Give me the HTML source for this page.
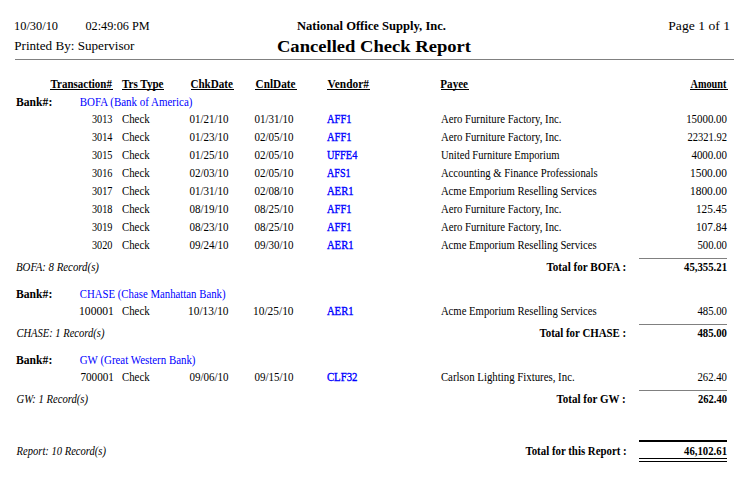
<!DOCTYPE html>
<html><head><meta charset="utf-8"><title>Cancelled Check Report</title>
<style>
html,body{margin:0;padding:0;background:#fff;width:744px;height:479px;overflow:hidden}
svg{display:block}
text{font-family:"Liberation Serif",serif;white-space:pre}
</style></head><body>
<svg width="744" height="479" viewBox="0 0 744 479">
<rect width="744" height="479" fill="#fff"/>
<g shape-rendering="crispEdges">
<rect x="15" y="59" width="719" height="1" fill="#808080"/>
<rect x="639" y="258" width="88" height="1" fill="#808080"/>
<rect x="639" y="324" width="88" height="1" fill="#808080"/>
<rect x="639" y="390" width="88" height="1" fill="#808080"/>
<rect x="639" y="440" width="88" height="2" fill="#000"/>
<rect x="639" y="458" width="88" height="1" fill="#000"/>
<rect x="639" y="461" width="88" height="1" fill="#000"/>
<rect x="50" y="89" width="63" height="1" fill="#000"/>
<rect x="122" y="89" width="42" height="1" fill="#000"/>
<rect x="191" y="89" width="43" height="1" fill="#000"/>
<rect x="255" y="89" width="42" height="1" fill="#000"/>
<rect x="327" y="89" width="43" height="1" fill="#000"/>
<rect x="441" y="89" width="28" height="1" fill="#000"/>
<rect x="690" y="89" width="38" height="1" fill="#000"/>
</g>
<g fill="#000">
<text x="14.02" y="30" textLength="43.98" lengthAdjust="spacingAndGlyphs" font-size="13.33">10/30/10</text>
<text x="85.46" y="30" textLength="64.24" lengthAdjust="spacingAndGlyphs" font-size="13.33">02:49:06 PM</text>
<text x="296.92" y="30" textLength="149.08" lengthAdjust="spacingAndGlyphs" font-size="13" font-weight="bold">National Office Supply, Inc.</text>
<text x="668.30" y="30" textLength="61.68" lengthAdjust="spacingAndGlyphs" font-size="13.33">Page 1 of 1</text>
<text x="14.26" y="50" textLength="120.24" lengthAdjust="spacingAndGlyphs" font-size="13.33">Printed By: Supervisor</text>
<text x="276.96" y="52" textLength="194.04" lengthAdjust="spacingAndGlyphs" font-size="17.5" font-weight="bold">Cancelled Check Report</text>
<text x="50.62" y="88" textLength="61.30" lengthAdjust="spacingAndGlyphs" font-size="12" font-weight="bold">Transaction#</text>
<text x="122.00" y="88" textLength="41.54" lengthAdjust="spacingAndGlyphs" font-size="12" font-weight="bold">Trs Type</text>
<text x="190.38" y="88" textLength="42.62" lengthAdjust="spacingAndGlyphs" font-size="12" font-weight="bold">ChkDate</text>
<text x="255.58" y="88" textLength="39.88" lengthAdjust="spacingAndGlyphs" font-size="12" font-weight="bold">CnlDate</text>
<text x="327.58" y="88" textLength="41.42" lengthAdjust="spacingAndGlyphs" font-size="12" font-weight="bold">Vendor#</text>
<text x="440.34" y="88" textLength="27.70" lengthAdjust="spacingAndGlyphs" font-size="12" font-weight="bold">Payee</text>
<text x="690.58" y="88" textLength="35.76" lengthAdjust="spacingAndGlyphs" font-size="12" font-weight="bold">Amount</text>
<text x="16.00" y="106" textLength="36.32" lengthAdjust="spacingAndGlyphs" font-size="12" font-weight="bold">Bank#:</text>
<text x="79.72" y="106" textLength="112.70" lengthAdjust="spacingAndGlyphs" font-size="12" fill="#0000ff">BOFA (Bank of America)</text>
<text x="92.00" y="123" textLength="20.46" lengthAdjust="spacingAndGlyphs" font-size="12">3013</text>
<text x="122.00" y="123" textLength="27.62" lengthAdjust="spacingAndGlyphs" font-size="12">Check</text>
<text x="189.42" y="123" textLength="39.12" lengthAdjust="spacingAndGlyphs" font-size="12">01/21/10</text>
<text x="254.42" y="123" textLength="39.12" lengthAdjust="spacingAndGlyphs" font-size="12">01/31/10</text>
<text x="326.92" y="123" textLength="24.66" lengthAdjust="spacingAndGlyphs" font-size="12" fill="#0000ff" stroke="#0000ff" stroke-width="0.35">AFF1</text>
<text x="440.92" y="123" textLength="120.58" lengthAdjust="spacingAndGlyphs" font-size="12">Aero Furniture Factory, Inc.</text>
<text x="686.14" y="123" textLength="40.86" lengthAdjust="spacingAndGlyphs" font-size="12">15000.00</text>
<text x="92.00" y="141" textLength="20.46" lengthAdjust="spacingAndGlyphs" font-size="12">3014</text>
<text x="122.00" y="141" textLength="27.62" lengthAdjust="spacingAndGlyphs" font-size="12">Check</text>
<text x="189.42" y="141" textLength="39.12" lengthAdjust="spacingAndGlyphs" font-size="12">01/23/10</text>
<text x="254.42" y="141" textLength="39.12" lengthAdjust="spacingAndGlyphs" font-size="12">02/05/10</text>
<text x="326.92" y="141" textLength="24.66" lengthAdjust="spacingAndGlyphs" font-size="12" fill="#0000ff" stroke="#0000ff" stroke-width="0.35">AFF1</text>
<text x="440.92" y="141" textLength="120.58" lengthAdjust="spacingAndGlyphs" font-size="12">Aero Furniture Factory, Inc.</text>
<text x="687.54" y="141" textLength="39.46" lengthAdjust="spacingAndGlyphs" font-size="12">22321.92</text>
<text x="92.00" y="159" textLength="20.46" lengthAdjust="spacingAndGlyphs" font-size="12">3015</text>
<text x="122.00" y="159" textLength="27.62" lengthAdjust="spacingAndGlyphs" font-size="12">Check</text>
<text x="189.42" y="159" textLength="39.12" lengthAdjust="spacingAndGlyphs" font-size="12">01/25/10</text>
<text x="254.42" y="159" textLength="39.12" lengthAdjust="spacingAndGlyphs" font-size="12">02/05/10</text>
<text x="326.92" y="159" textLength="30.38" lengthAdjust="spacingAndGlyphs" font-size="12" fill="#0000ff" stroke="#0000ff" stroke-width="0.35">UFFE4</text>
<text x="440.92" y="159" textLength="118.54" lengthAdjust="spacingAndGlyphs" font-size="12">United Furniture Emporium</text>
<text x="691.42" y="159" textLength="35.58" lengthAdjust="spacingAndGlyphs" font-size="12">4000.00</text>
<text x="92.00" y="177" textLength="20.46" lengthAdjust="spacingAndGlyphs" font-size="12">3016</text>
<text x="122.00" y="177" textLength="27.62" lengthAdjust="spacingAndGlyphs" font-size="12">Check</text>
<text x="189.42" y="177" textLength="39.12" lengthAdjust="spacingAndGlyphs" font-size="12">02/03/10</text>
<text x="254.42" y="177" textLength="39.12" lengthAdjust="spacingAndGlyphs" font-size="12">02/05/10</text>
<text x="326.92" y="177" textLength="23.70" lengthAdjust="spacingAndGlyphs" font-size="12" fill="#0000ff" stroke="#0000ff" stroke-width="0.35">AFS1</text>
<text x="440.92" y="177" textLength="156.66" lengthAdjust="spacingAndGlyphs" font-size="12">Accounting &amp; Finance Professionals</text>
<text x="690.02" y="177" textLength="36.98" lengthAdjust="spacingAndGlyphs" font-size="12">1500.00</text>
<text x="92.00" y="195" textLength="20.46" lengthAdjust="spacingAndGlyphs" font-size="12">3017</text>
<text x="122.00" y="195" textLength="27.62" lengthAdjust="spacingAndGlyphs" font-size="12">Check</text>
<text x="189.42" y="195" textLength="39.12" lengthAdjust="spacingAndGlyphs" font-size="12">01/31/10</text>
<text x="254.42" y="195" textLength="39.12" lengthAdjust="spacingAndGlyphs" font-size="12">02/08/10</text>
<text x="326.92" y="195" textLength="26.70" lengthAdjust="spacingAndGlyphs" font-size="12" fill="#0000ff" stroke="#0000ff" stroke-width="0.35">AER1</text>
<text x="440.92" y="195" textLength="155.70" lengthAdjust="spacingAndGlyphs" font-size="12">Acme Emporium Reselling Services</text>
<text x="690.02" y="195" textLength="36.98" lengthAdjust="spacingAndGlyphs" font-size="12">1800.00</text>
<text x="92.00" y="213" textLength="20.46" lengthAdjust="spacingAndGlyphs" font-size="12">3018</text>
<text x="122.00" y="213" textLength="27.62" lengthAdjust="spacingAndGlyphs" font-size="12">Check</text>
<text x="189.42" y="213" textLength="39.12" lengthAdjust="spacingAndGlyphs" font-size="12">08/19/10</text>
<text x="254.42" y="213" textLength="39.12" lengthAdjust="spacingAndGlyphs" font-size="12">08/25/10</text>
<text x="326.92" y="213" textLength="24.66" lengthAdjust="spacingAndGlyphs" font-size="12" fill="#0000ff" stroke="#0000ff" stroke-width="0.35">AFF1</text>
<text x="440.92" y="213" textLength="120.58" lengthAdjust="spacingAndGlyphs" font-size="12">Aero Furniture Factory, Inc.</text>
<text x="695.98" y="213" textLength="31.02" lengthAdjust="spacingAndGlyphs" font-size="12">125.45</text>
<text x="92.00" y="231" textLength="20.46" lengthAdjust="spacingAndGlyphs" font-size="12">3019</text>
<text x="122.00" y="231" textLength="27.62" lengthAdjust="spacingAndGlyphs" font-size="12">Check</text>
<text x="189.42" y="231" textLength="39.12" lengthAdjust="spacingAndGlyphs" font-size="12">08/23/10</text>
<text x="254.42" y="231" textLength="39.12" lengthAdjust="spacingAndGlyphs" font-size="12">08/25/10</text>
<text x="326.92" y="231" textLength="24.66" lengthAdjust="spacingAndGlyphs" font-size="12" fill="#0000ff" stroke="#0000ff" stroke-width="0.35">AFF1</text>
<text x="440.92" y="231" textLength="120.58" lengthAdjust="spacingAndGlyphs" font-size="12">Aero Furniture Factory, Inc.</text>
<text x="695.98" y="231" textLength="31.02" lengthAdjust="spacingAndGlyphs" font-size="12">107.84</text>
<text x="92.00" y="249" textLength="20.46" lengthAdjust="spacingAndGlyphs" font-size="12">3020</text>
<text x="122.00" y="249" textLength="27.62" lengthAdjust="spacingAndGlyphs" font-size="12">Check</text>
<text x="189.42" y="249" textLength="39.12" lengthAdjust="spacingAndGlyphs" font-size="12">09/24/10</text>
<text x="254.42" y="249" textLength="39.12" lengthAdjust="spacingAndGlyphs" font-size="12">09/30/10</text>
<text x="326.92" y="249" textLength="26.70" lengthAdjust="spacingAndGlyphs" font-size="12" fill="#0000ff" stroke="#0000ff" stroke-width="0.35">AER1</text>
<text x="440.92" y="249" textLength="155.70" lengthAdjust="spacingAndGlyphs" font-size="12">Acme Emporium Reselling Services</text>
<text x="697.46" y="249" textLength="29.54" lengthAdjust="spacingAndGlyphs" font-size="12">500.00</text>
<text x="16.00" y="271" textLength="82.96" lengthAdjust="spacingAndGlyphs" font-size="12" font-style="italic">BOFA: 8 Record(s)</text>
<text x="546.42" y="271" textLength="79.86" lengthAdjust="spacingAndGlyphs" font-size="12" font-weight="bold">Total for BOFA :</text>
<text x="684.00" y="271" textLength="43.00" lengthAdjust="spacingAndGlyphs" font-size="12" font-weight="bold">45,355.21</text>
<text x="16.00" y="298" textLength="36.32" lengthAdjust="spacingAndGlyphs" font-size="12" font-weight="bold">Bank#:</text>
<text x="79.72" y="298" textLength="145.82" lengthAdjust="spacingAndGlyphs" font-size="12" fill="#0000ff">CHASE (Chase Manhattan Bank)</text>
<text x="79.02" y="315" textLength="34.84" lengthAdjust="spacingAndGlyphs" font-size="12">100001</text>
<text x="122.00" y="315" textLength="27.62" lengthAdjust="spacingAndGlyphs" font-size="12">Check</text>
<text x="188.02" y="315" textLength="40.52" lengthAdjust="spacingAndGlyphs" font-size="12">10/13/10</text>
<text x="253.02" y="315" textLength="40.52" lengthAdjust="spacingAndGlyphs" font-size="12">10/25/10</text>
<text x="326.92" y="315" textLength="26.70" lengthAdjust="spacingAndGlyphs" font-size="12" fill="#0000ff" stroke="#0000ff" stroke-width="0.35">AER1</text>
<text x="440.92" y="315" textLength="155.70" lengthAdjust="spacingAndGlyphs" font-size="12">Acme Emporium Reselling Services</text>
<text x="697.46" y="315" textLength="29.54" lengthAdjust="spacingAndGlyphs" font-size="12">485.00</text>
<text x="16.42" y="337" textLength="88.00" lengthAdjust="spacingAndGlyphs" font-size="12" font-style="italic">CHASE: 1 Record(s)</text>
<text x="539.46" y="337" textLength="86.78" lengthAdjust="spacingAndGlyphs" font-size="12" font-weight="bold">Total for CHASE :</text>
<text x="697.42" y="337" textLength="29.58" lengthAdjust="spacingAndGlyphs" font-size="12" font-weight="bold">485.00</text>
<text x="16.00" y="364" textLength="36.32" lengthAdjust="spacingAndGlyphs" font-size="12" font-weight="bold">Bank#:</text>
<text x="79.72" y="364" textLength="115.78" lengthAdjust="spacingAndGlyphs" font-size="12" fill="#0000ff">GW (Great Western Bank)</text>
<text x="80.42" y="381" textLength="33.44" lengthAdjust="spacingAndGlyphs" font-size="12">700001</text>
<text x="122.00" y="381" textLength="27.62" lengthAdjust="spacingAndGlyphs" font-size="12">Check</text>
<text x="189.42" y="381" textLength="39.12" lengthAdjust="spacingAndGlyphs" font-size="12">09/06/10</text>
<text x="254.42" y="381" textLength="39.12" lengthAdjust="spacingAndGlyphs" font-size="12">09/15/10</text>
<text x="326.92" y="381" textLength="30.58" lengthAdjust="spacingAndGlyphs" font-size="12" fill="#0000ff" stroke="#0000ff" stroke-width="0.35">CLF32</text>
<text x="440.92" y="381" textLength="133.74" lengthAdjust="spacingAndGlyphs" font-size="12">Carlson Lighting Fixtures, Inc.</text>
<text x="697.46" y="381" textLength="29.54" lengthAdjust="spacingAndGlyphs" font-size="12">262.40</text>
<text x="16.50" y="403" textLength="71.50" lengthAdjust="spacingAndGlyphs" font-size="12" font-style="italic">GW: 1 Record(s)</text>
<text x="556.46" y="403" textLength="69.24" lengthAdjust="spacingAndGlyphs" font-size="12" font-weight="bold">Total for GW :</text>
<text x="698.00" y="403" textLength="29.00" lengthAdjust="spacingAndGlyphs" font-size="12" font-weight="bold">262.40</text>
<text x="16.58" y="455" textLength="89.42" lengthAdjust="spacingAndGlyphs" font-size="12" font-style="italic">Report: 10 Record(s)</text>
<text x="525.46" y="455" textLength="101.24" lengthAdjust="spacingAndGlyphs" font-size="12" font-weight="bold">Total for this Report :</text>
<text x="684.00" y="455" textLength="43.00" lengthAdjust="spacingAndGlyphs" font-size="12" font-weight="bold">46,102.61</text>
</g>
</svg>
</body></html>
